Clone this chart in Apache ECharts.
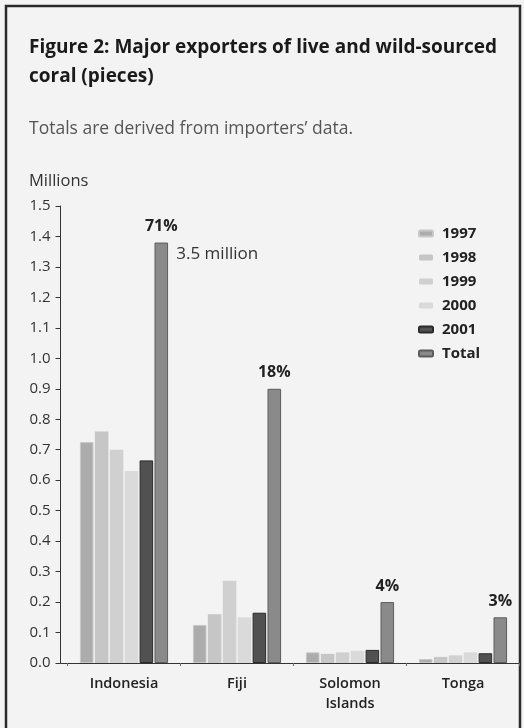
<!DOCTYPE html>
<html>
<head>
<meta charset="utf-8">
<script src="https://cdn.jsdelivr.net/npm/echarts@6/dist/echarts.min.js"></script>
<style>
  html, body { margin: 0; padding: 0; background: #f3f3f3; }
  #chart { width: 524px; height: 728px; }
</style>
</head>
<body>
<div id="chart"></div>
<script>
  // values in millions of pieces
  const countries = ['Indonesia', 'Fiji', 'Solomon\nIslands', 'Tonga']
  const y1997 = [0.725, 0.125, 0.035, 0.013]
  const y1998 = [0.76, 0.16, 0.03, 0.02]
  const y1999 = [0.70, 0.27, 0.035, 0.025]
  const y2000 = [0.63, 0.15, 0.04, 0.035]
  const y2001 = [0.665, 0.165, 0.043, 0.032]
  const totals = [1.38, 0.90, 0.20, 0.15]
  const shares = ['71%', '18%', '4%', '3%']
  const yTicks = ['0.0', '0.1', '0.2', '0.3', '0.4', '0.5', '0.6', '0.7', '0.8', '0.9', '1.0', '1.1', '1.2', '1.3', '1.4', '1.5']

  const font = '"Open Sans", Roboto, sans-serif'
  const chart = echarts.init(document.getElementById('chart'))

  const yearBar = (name, data, fill, border) => ({
    name: name,
    type: 'bar',
    data: data,
    barGap: '10%',
    barCategoryGap: '22%',
    itemStyle: { color: fill, borderColor: border, borderWidth: border ? 1 : 0 }
  })

  let options = {
    backgroundColor: '#f3f3f3',
    textStyle: { fontFamily: font },
    animation: false,
    title: [
      {
        text: 'Figure 2: Major exporters of live and wild-sourced\ncoral (pieces)',
        left: 24, top: 28,
        textStyle: { fontSize: 19, fontWeight: 'bold', color: '#1a1a1a', lineHeight: 29, fontFamily: font }
      },
      {
        text: 'Totals are derived from importers\u2019 data.',
        left: 24, top: 115,
        textStyle: { fontSize: 17.5, fontWeight: 'normal', color: '#555', fontFamily: font }
      },
      {
        text: 'Millions',
        left: 24, top: 168,
        textStyle: { fontSize: 16.5, fontWeight: 'normal', color: '#333', fontFamily: font }
      }
    ],
    legend: {
      orient: 'vertical',
      left: 413, top: 221,
      itemWidth: 14, itemHeight: 6, itemGap: 9,
      textStyle: { fontSize: 15, fontWeight: 'bold', color: '#222', fontFamily: font, padding: [0, 0, 0, 4] },
      data: ['1997', '1998', '1999', '2000', '2001', 'Total']
    },
    grid: { left: 67.5, right: 4.5, top: 206, bottom: 65 },
    xAxis: {
      type: 'category',
      data: countries,
      axisLine: { lineStyle: { color: '#333', width: 1 } },
      axisTick: { show: true, length: 3, lineStyle: { color: '#666' } },
      axisLabel: { fontSize: 14.5, fontWeight: 600, color: '#222', margin: 11, lineHeight: 20, fontFamily: font }
    },
    yAxis: {
      type: 'value',
      min: 0, max: 1.5, interval: 0.1,
      offset: 7,
      axisLine: { show: true, lineStyle: { color: '#333' } },
      axisTick: { show: true, length: 5, lineStyle: { color: '#333' } },
      splitLine: { show: false },
      axisLabel: {
        fontSize: 15, color: '#333', margin: 10, fontFamily: font,
        formatter: (v) => yTicks[Math.round(v * 10)]
      }
    },
    series: [
      yearBar('1997', y1997, '#acacac', '#c8c8c8'),
      yearBar('1998', y1998, '#c6c6c6'),
      yearBar('1999', y1999, '#d0d0d0'),
      yearBar('2000', y2000, '#dadada'),
      yearBar('2001', y2001, '#515151', '#2a2a2a'),
      {
        name: 'Total',
        type: 'bar',
        data: totals,
        barGap: '10%',
        barCategoryGap: '22%',
        itemStyle: { color: '#8a8a8a', borderColor: '#5c5c5c', borderWidth: 1 },
        label: {
          show: true,
          position: 'top',
          distance: 8,
          fontSize: 16,
          fontWeight: 'bold',
          color: '#222',
          fontFamily: font,
          formatter: (p) => shares[p.dataIndex]
        },
        markPoint: {
          symbol: 'rect',
          symbolSize: 0,
          data: [{ coord: [countries[0], totals[0]], value: '3.5 million' }],
          label: {
            show: true,
            position: 'right',
            distance: 0,
            offset: [15, 12],
            fontSize: 17,
            color: '#333',
            fontFamily: font,
            formatter: '3.5 million'
          }
        }
      }
    ],
    graphic: [
      {
        type: 'rect',
        shape: { x: 6, y: 6, width: 514, height: 740 },
        style: { fill: null, stroke: '#2a2a2a', lineWidth: 2.5 },
        silent: true
      },
      {
        // short stub of the baseline between the y axis and the first category
        type: 'line',
        shape: { x1: 60.5, y1: 663.5, x2: 68, y2: 663.5 },
        style: { stroke: '#333', lineWidth: 1 },
        silent: true
      }
    ]
  }
  chart.setOption(options)
</script>
</body>
</html>
